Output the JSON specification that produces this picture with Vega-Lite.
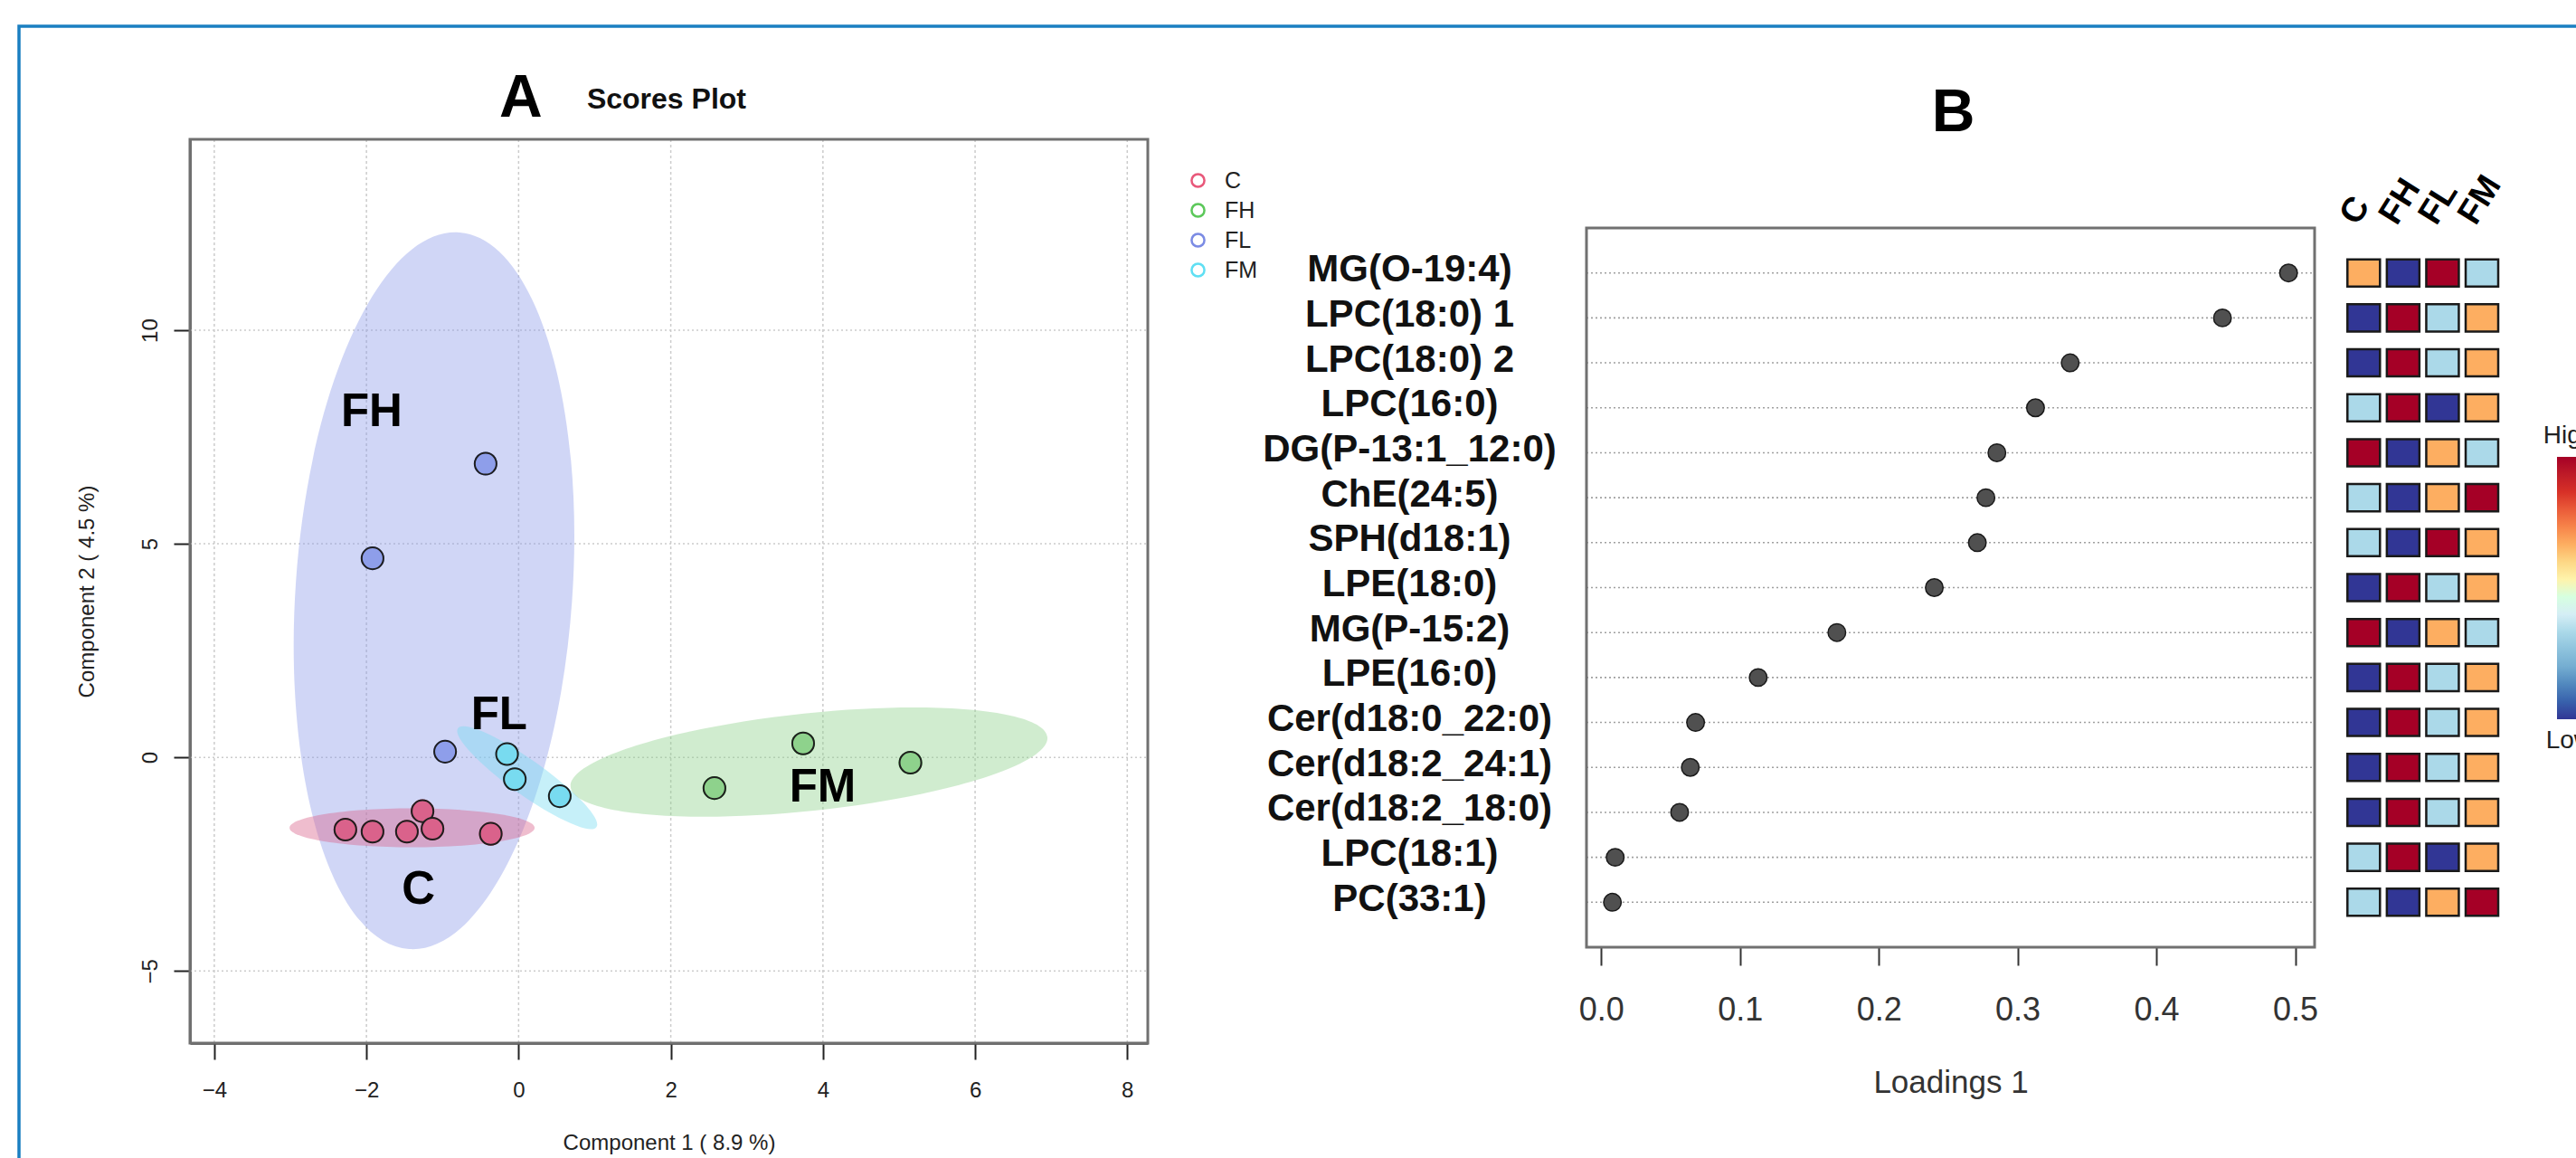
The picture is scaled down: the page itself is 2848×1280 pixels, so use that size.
{
  "$schema": "https://vega.github.io/schema/vega-lite/v6.json",
  "width": 2857,
  "height": 1281,
  "autosize": {"type": "none"},
  "padding": {"left": 21, "top": 29, "right": -30, "bottom": -30},
  "background": "white",
  "config": {"font": "Liberation Sans", "view": {"stroke": "#1a7fc1", "strokeWidth": 3.5}},
  "datasets": {
    "scores": [
      {"group": "C", "x": -2.277, "y": -1.69},
      {"group": "C", "x": -1.92, "y": -1.74},
      {"group": "C", "x": -1.468, "y": -1.74},
      {"group": "C", "x": -1.263, "y": -1.26},
      {"group": "C", "x": -1.132, "y": -1.67},
      {"group": "C", "x": -0.366, "y": -1.79},
      {"group": "FL", "x": -0.434, "y": 6.875},
      {"group": "FL", "x": -1.92, "y": 4.66},
      {"group": "FL", "x": -0.966, "y": 0.133},
      {"group": "FM", "x": -0.152, "y": 0.078},
      {"group": "FM", "x": -0.05, "y": -0.51},
      {"group": "FM", "x": 0.541, "y": -0.91},
      {"group": "FH", "x": 2.574, "y": -0.72},
      {"group": "FH", "x": 3.74, "y": 0.326},
      {"group": "FH", "x": 5.15, "y": -0.123}
    ],
    "ellipses": [
      {"group": "FL", "x": -1.112, "y": 3.9},
      {"group": "FH", "x": 3.817, "y": -0.11},
      {"group": "FM", "x": 0.113, "y": -0.477},
      {"group": "C", "x": -1.4, "y": -1.65}
    ],
    "labels": [
      {"label": "FH", "x": -1.932, "y": 8.07},
      {"label": "FL", "x": -0.256, "y": 0.98},
      {"label": "FM", "x": 3.996, "y": -0.72},
      {"label": "C", "x": -1.317, "y": -3.11}
    ],
    "gridx": [{"v": -4}, {"v": -2}, {"v": 0}, {"v": 2}, {"v": 4}, {"v": 6}, {"v": 8}],
    "gridy": [{"v": -5}, {"v": 0}, {"v": 5}, {"v": 10}],
    "loadings": [
      {"f": "MG(O-19:4)", "l": 0.4952},
      {"f": "LPC(18:0) 1", "l": 0.4476},
      {"f": "LPC(18:0) 2", "l": 0.3379},
      {"f": "LPC(16:0)", "l": 0.3129},
      {"f": "DG(P-13:1_12:0)", "l": 0.2851},
      {"f": "ChE(24:5)", "l": 0.2772},
      {"f": "SPH(d18:1)", "l": 0.271},
      {"f": "LPE(18:0)", "l": 0.24},
      {"f": "MG(P-15:2)", "l": 0.1698},
      {"f": "LPE(16:0)", "l": 0.1131},
      {"f": "Cer(d18:0_22:0)", "l": 0.068},
      {"f": "Cer(d18:2_24:1)", "l": 0.0642},
      {"f": "Cer(d18:2_18:0)", "l": 0.0565},
      {"f": "LPC(18:1)", "l": 0.0101},
      {"f": "PC(33:1)", "l": 0.0081}
    ],
    "heat": [
      {"f": "MG(O-19:4)", "g": "C", "r": 3}, {"f": "MG(O-19:4)", "g": "FH", "r": 1}, {"f": "MG(O-19:4)", "g": "FL", "r": 4}, {"f": "MG(O-19:4)", "g": "FM", "r": 2},
      {"f": "LPC(18:0) 1", "g": "C", "r": 1}, {"f": "LPC(18:0) 1", "g": "FH", "r": 4}, {"f": "LPC(18:0) 1", "g": "FL", "r": 2}, {"f": "LPC(18:0) 1", "g": "FM", "r": 3},
      {"f": "LPC(18:0) 2", "g": "C", "r": 1}, {"f": "LPC(18:0) 2", "g": "FH", "r": 4}, {"f": "LPC(18:0) 2", "g": "FL", "r": 2}, {"f": "LPC(18:0) 2", "g": "FM", "r": 3},
      {"f": "LPC(16:0)", "g": "C", "r": 2}, {"f": "LPC(16:0)", "g": "FH", "r": 4}, {"f": "LPC(16:0)", "g": "FL", "r": 1}, {"f": "LPC(16:0)", "g": "FM", "r": 3},
      {"f": "DG(P-13:1_12:0)", "g": "C", "r": 4}, {"f": "DG(P-13:1_12:0)", "g": "FH", "r": 1}, {"f": "DG(P-13:1_12:0)", "g": "FL", "r": 3}, {"f": "DG(P-13:1_12:0)", "g": "FM", "r": 2},
      {"f": "ChE(24:5)", "g": "C", "r": 2}, {"f": "ChE(24:5)", "g": "FH", "r": 1}, {"f": "ChE(24:5)", "g": "FL", "r": 3}, {"f": "ChE(24:5)", "g": "FM", "r": 4},
      {"f": "SPH(d18:1)", "g": "C", "r": 2}, {"f": "SPH(d18:1)", "g": "FH", "r": 1}, {"f": "SPH(d18:1)", "g": "FL", "r": 4}, {"f": "SPH(d18:1)", "g": "FM", "r": 3},
      {"f": "LPE(18:0)", "g": "C", "r": 1}, {"f": "LPE(18:0)", "g": "FH", "r": 4}, {"f": "LPE(18:0)", "g": "FL", "r": 2}, {"f": "LPE(18:0)", "g": "FM", "r": 3},
      {"f": "MG(P-15:2)", "g": "C", "r": 4}, {"f": "MG(P-15:2)", "g": "FH", "r": 1}, {"f": "MG(P-15:2)", "g": "FL", "r": 3}, {"f": "MG(P-15:2)", "g": "FM", "r": 2},
      {"f": "LPE(16:0)", "g": "C", "r": 1}, {"f": "LPE(16:0)", "g": "FH", "r": 4}, {"f": "LPE(16:0)", "g": "FL", "r": 2}, {"f": "LPE(16:0)", "g": "FM", "r": 3},
      {"f": "Cer(d18:0_22:0)", "g": "C", "r": 1}, {"f": "Cer(d18:0_22:0)", "g": "FH", "r": 4}, {"f": "Cer(d18:0_22:0)", "g": "FL", "r": 2}, {"f": "Cer(d18:0_22:0)", "g": "FM", "r": 3},
      {"f": "Cer(d18:2_24:1)", "g": "C", "r": 1}, {"f": "Cer(d18:2_24:1)", "g": "FH", "r": 4}, {"f": "Cer(d18:2_24:1)", "g": "FL", "r": 2}, {"f": "Cer(d18:2_24:1)", "g": "FM", "r": 3},
      {"f": "Cer(d18:2_18:0)", "g": "C", "r": 1}, {"f": "Cer(d18:2_18:0)", "g": "FH", "r": 4}, {"f": "Cer(d18:2_18:0)", "g": "FL", "r": 2}, {"f": "Cer(d18:2_18:0)", "g": "FM", "r": 3},
      {"f": "LPC(18:1)", "g": "C", "r": 2}, {"f": "LPC(18:1)", "g": "FH", "r": 4}, {"f": "LPC(18:1)", "g": "FL", "r": 1}, {"f": "LPC(18:1)", "g": "FM", "r": 3},
      {"f": "PC(33:1)", "g": "C", "r": 2}, {"f": "PC(33:1)", "g": "FH", "r": 1}, {"f": "PC(33:1)", "g": "FL", "r": 3}, {"f": "PC(33:1)", "g": "FM", "r": 4}
    ],
    "titleA": [{"t": "A"}],
    "titleS": [{"t": "Scores Plot"}],
    "titleB": [{"t": "B"}],
    "high": [{"t": "High"}],
    "low": [{"t": "Low"}],
    "frame": [{"t": "frame"}]
  },
  "layer": [
    {
      "layer": [
        {
          "data": {"name": "gridx"},
          "mark": {"type": "rule", "stroke": "#cccccc", "strokeWidth": 1.5, "strokeDash": [3, 3]},
          "encoding": {
            "x": {"field": "v", "type": "quantitative", "scale": {"domain": [-4.32, 8.27], "range": [189, 1248], "nice": false, "zero": false}},
            "y": {"datum": -6.69, "type": "quantitative", "scale": {"domain": [-6.69, 14.47], "range": [1124, 125], "nice": false, "zero": false}},
            "y2": {"datum": 14.47}
          }
        },
        {
          "data": {"name": "gridy"},
          "mark": {"type": "rule", "stroke": "#cccccc", "strokeWidth": 1.5, "strokeDash": [2, 3]},
          "encoding": {
            "y": {"field": "v", "type": "quantitative"},
            "x": {"datum": -4.32, "type": "quantitative"},
            "x2": {"datum": 8.27}
          }
        },
        {
          "data": {"name": "ellipses"},
          "mark": {"type": "point", "filled": true, "size": 40000, "opacity": 1, "fillOpacity": 0.42, "strokeWidth": 0},
          "encoding": {
            "x": {"field": "x", "type": "quantitative"},
            "y": {"field": "y", "type": "quantitative"},
            "fill": {"field": "group", "type": "nominal", "scale": {"domain": ["FM", "FL", "FH", "C"], "range": ["#78dbf0", "#8e9eea", "#8ed28c", "#da628b"]}, "legend": null},
            "shape": {"field": "group", "type": "nominal", "legend": null, "scale": {"domain": ["FH", "C", "FM", "FL"], "range": [
              "M -2.6355 0.277 A 2.65 0.54 -6 1 0 2.6355 -0.277 A 2.65 0.54 -6 1 0 -2.6355 0.277 Z",
              "M -1.355 0 A 1.355 0.215 0 1 0 1.355 0 A 1.355 0.215 0 1 0 -1.355 0 Z",
              "M -0.7652 -0.5459 A 0.94 0.19 35.5 1 0 0.7652 0.5459 A 0.94 0.19 35.5 1 0 -0.7652 -0.5459 Z",
              "M -1.5263 -0.1067 A 1.53 3.97 4 1 0 1.5263 0.1067 A 1.53 3.97 4 1 0 -1.5263 -0.1067 Z"
            ]}}
          }
        },
        {
          "data": {"name": "scores"},
          "mark": {"type": "point", "filled": false, "size": 580, "strokeWidth": 2, "opacity": 1},
          "encoding": {
            "x": {"field": "x", "type": "quantitative"},
            "y": {"field": "y", "type": "quantitative"},
            "stroke": {"field": "group", "type": "nominal", "scale": {"domain": ["C", "FH", "FL", "FM"], "range": ["#e8587a", "#5cc85a", "#7b8be4", "#5fdff3"]},
              "legend": {"orient": "none", "legendX": 1291, "legendY": 158, "title": null, "symbolType": "circle", "symbolSize": 200, "symbolStrokeWidth": 2.5, "labelFontSize": 25, "labelColor": "#222222", "labelOffset": 17, "rowPadding": 7, "padding": 0}}
          }
        },
        {
          "data": {"name": "scores"},
          "mark": {"type": "point", "filled": true, "size": 580, "stroke": "#1e1e1e", "strokeWidth": 2, "opacity": 1},
          "encoding": {
            "x": {"field": "x", "type": "quantitative",
              "axis": {"orient": "bottom", "offset": -157, "values": [-4, -2, 0, 2, 4, 6, 8], "format": "d", "grid": false, "domain": true, "domainColor": "#333333", "domainWidth": 2.5, "tickSize": 18, "tickWidth": 2, "tickColor": "#222222", "labelFontSize": 24, "labelColor": "#222222", "labelPadding": 22, "labelFlush": false, "title": "Component 1 ( 8.9 %)", "titleFontSize": 24, "titleFontWeight": "normal", "titleColor": "#222222", "titlePadding": 34}},
            "y": {"field": "y", "type": "quantitative",
              "axis": {"orient": "left", "offset": -189, "values": [-5, 0, 5, 10], "format": "d", "grid": false, "domain": true, "domainColor": "#333333", "domainWidth": 2.5, "tickSize": 18, "tickWidth": 2, "tickColor": "#222222", "labelAngle": -90, "labelAlign": "center", "labelBaseline": "bottom", "labelFontSize": 24, "labelColor": "#222222", "labelPadding": 14, "labelFlush": false, "title": "Component 2 ( 4.5 %)", "titleFontSize": 24, "titleFontWeight": "normal", "titleColor": "#222222", "titlePadding": 46}},
            "fill": {"field": "group", "type": "nominal", "legend": null}
          }
        },
        {
          "data": {"name": "labels"},
          "mark": {"type": "text", "fontSize": 51, "fontWeight": "bold", "align": "center", "baseline": "middle", "color": "#000000"},
          "encoding": {
            "x": {"field": "x", "type": "quantitative"},
            "y": {"field": "y", "type": "quantitative"},
            "text": {"field": "label"}
          }
        },
        {
          "data": {"name": "frame"},
          "mark": {"type": "rect", "filled": false, "stroke": "#707070", "strokeWidth": 3},
          "encoding": {
            "x": {"datum": -4.32, "type": "quantitative"},
            "x2": {"datum": 8.27},
            "y": {"datum": -6.69, "type": "quantitative"},
            "y2": {"datum": 14.47}
          }
        },
        {
          "data": {"name": "titleA"},
          "mark": {"type": "text", "fontSize": 66, "fontWeight": "bold", "align": "center", "baseline": "alphabetic", "color": "#000000"},
          "encoding": {
            "x": {"datum": 0.03, "type": "quantitative"},
            "y": {"datum": 14.99, "type": "quantitative"},
            "text": {"field": "t"}
          }
        },
        {
          "data": {"name": "titleS"},
          "mark": {"type": "text", "fontSize": 32, "fontWeight": "bold", "align": "left", "baseline": "alphabetic", "color": "#111111"},
          "encoding": {
            "x": {"datum": 0.898, "type": "quantitative"},
            "y": {"datum": 15.18, "type": "quantitative"},
            "text": {"field": "t"}
          }
        }
      ]
    },
    {
      "layer": [
        {
          "data": {"name": "loadings"},
          "mark": {"type": "rule", "stroke": "#a0a0a0", "strokeWidth": 1.6, "strokeDash": [2, 3]},
          "encoding": {
            "y": {"field": "f", "type": "nominal",
              "scale": {"type": "point", "domain": ["MG(O-19:4)", "LPC(18:0) 1", "LPC(18:0) 2", "LPC(16:0)", "DG(P-13:1_12:0)", "ChE(24:5)", "SPH(d18:1)", "LPE(18:0)", "MG(P-15:2)", "LPE(16:0)", "Cer(d18:0_22:0)", "Cer(d18:2_24:1)", "Cer(d18:2_18:0)", "LPC(18:1)", "PC(33:1)"], "range": [223, 1018], "padding": 1}},
            "x": {"datum": -0.0106, "type": "quantitative", "scale": {"domain": [-0.0106, 0.514], "range": [1733, 2538], "nice": false, "zero": false}},
            "x2": {"datum": 0.514}
          }
        },
        {
          "data": {"name": "loadings"},
          "mark": {"type": "point", "filled": true, "size": 380, "fill": "#505050", "stroke": "#1a1a1a", "strokeWidth": 1.5, "opacity": 1},
          "encoding": {
            "x": {"field": "l", "type": "quantitative",
              "axis": {"orient": "bottom", "offset": -263, "values": [0, 0.1, 0.2, 0.3, 0.4, 0.5], "format": ".1f", "domain": false, "grid": false, "ticks": true, "tickSize": 20, "tickWidth": 2, "tickColor": "#333333", "labelFontSize": 36, "labelColor": "#333333", "labelPadding": 32, "labelFlush": false, "title": "Loadings 1", "titleFontSize": 35, "titleFontWeight": "normal", "titleColor": "#333333", "titlePadding": 45}},
            "y": {"field": "f", "type": "nominal",
              "axis": {"orient": "left", "offset": -1733, "domain": false, "ticks": false, "grid": false, "labelFontSize": 42, "labelFontWeight": "bold", "labelColor": "#111111", "labelAlign": "center", "labelBaseline": "middle", "labelPadding": 196, "labelLimit": 1000, "labelOverlap": false, "labelOffset": -4, "title": null}}
          }
        }
      ]
    },
    {
      "layer": [
        {
          "data": {"name": "frame"},
          "mark": {"type": "rect", "filled": false, "stroke": "#707070", "strokeWidth": 3},
          "encoding": {
            "x": {"datum": -0.0106, "type": "quantitative", "scale": {"domain": [-0.0106, 0.514], "range": [1733, 2538], "nice": false, "zero": false}, "axis": null},
            "x2": {"datum": 0.514},
            "y": {"datum": 0, "type": "quantitative", "scale": {"domain": [0, 1], "range": [1018, 223], "nice": false, "zero": false}, "axis": null},
            "y2": {"datum": 1}
          }
        },
        {
          "data": {"name": "titleB"},
          "mark": {"type": "text", "fontSize": 66, "fontWeight": "bold", "align": "center", "baseline": "alphabetic", "color": "#000000"},
          "encoding": {
            "x": {"datum": 0.2537, "type": "quantitative", "axis": null},
            "y": {"datum": 1.1346, "type": "quantitative", "axis": null},
            "text": {"field": "t"}
          }
        },
        {
          "data": {"name": "high"},
          "mark": {"type": "text", "fontSize": 28, "align": "left", "baseline": "alphabetic", "color": "#222222"},
          "encoding": {
            "x": {"datum": 0.6787, "type": "quantitative", "axis": null},
            "y": {"datum": 0.7006, "type": "quantitative", "axis": null},
            "text": {"field": "t"}
          }
        },
        {
          "data": {"name": "low"},
          "mark": {"type": "text", "fontSize": 28, "align": "left", "baseline": "alphabetic", "color": "#222222"},
          "encoding": {
            "x": {"datum": 0.6806, "type": "quantitative", "axis": null},
            "y": {"datum": 0.2771, "type": "quantitative", "axis": null},
            "text": {"field": "t"}
          }
        }
      ]
    },
    {
      "layer": [
        {
          "data": {"name": "heat"},
          "mark": {"type": "rect", "stroke": "#1a1a1a", "strokeWidth": 2.5},
          "encoding": {
            "x": {"field": "g", "type": "nominal",
              "scale": {"type": "band", "domain": ["C", "FH", "FL", "FM"], "range": [2570.5, 2744.8], "paddingInner": 0.174, "paddingOuter": 0.087},
              "axis": {"orient": "top", "offset": -221, "domain": false, "ticks": false, "grid": false, "labelAngle": -58, "labelAlign": "left", "labelBaseline": "alphabetic", "labelFontSize": 38, "labelFontWeight": "bold", "labelColor": "#000000", "labelPadding": 0, "labelOffset": -7, "labelOverlap": false, "title": null}},
            "y": {"field": "f", "type": "nominal",
              "scale": {"type": "band", "domain": ["MG(O-19:4)", "LPC(18:0) 1", "LPC(18:0) 2", "LPC(16:0)", "DG(P-13:1_12:0)", "ChE(24:5)", "SPH(d18:1)", "LPE(18:0)", "MG(P-15:2)", "LPE(16:0)", "Cer(d18:0_22:0)", "Cer(d18:2_24:1)", "Cer(d18:2_18:0)", "LPC(18:1)", "PC(33:1)"], "range": [223, 1018], "paddingInner": 0.396, "paddingOuter": 0.698},
              "axis": null},
            "fill": {"field": "r", "type": "quantitative",
              "scale": {"domain": [1, 1.3, 1.6, 2, 2.25, 2.5, 2.75, 3, 3.3, 3.6, 4], "range": ["#313695", "#4575b4", "#74add1", "#abd9e9", "#e0f3f8", "#ffffbf", "#fee090", "#fdae61", "#f46d43", "#d73027", "#a50026"]},
              "legend": {"orient": "none", "legendX": 2806, "legendY": 476, "title": null, "direction": "vertical", "gradientLength": 290, "gradientThickness": 30, "labelExpr": "''", "padding": 0}}
          }
        }
      ]
    }
  ],
  "resolve": {
    "scale": {"x": "independent", "y": "independent", "fill": "independent"},
    "axis": {"x": "independent", "y": "independent"},
    "legend": {"fill": "independent"}
  }
}
